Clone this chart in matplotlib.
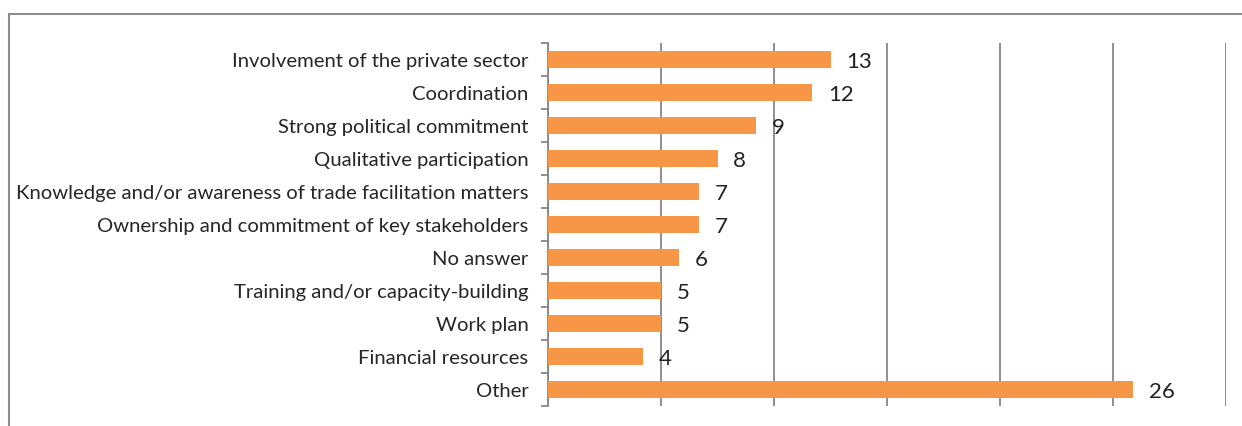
import matplotlib.pyplot as plt
from matplotlib.patches import Rectangle
from matplotlib.ticker import MultipleLocator, FixedLocator

# Factors for success (share of answers, labels rounded)
categories = [
    'Involvement of the private sector',
    'Coordination',
    'Strong political commitment',
    'Qualitative participation',
    'Knowledge and/or awareness of trade facilitation matters',
    'Ownership and commitment of key stakeholders',
    'No answer',
    'Training and/or capacity-building',
    'Work plan',
    'Financial resources',
    'Other',
]
values = [12.5, 11.7, 9.2, 7.5, 6.7, 6.7, 5.8, 5.0, 5.0, 4.2, 25.9]
labels = [13, 12, 9, 8, 7, 7, 6, 5, 5, 4, 26]

plt.rcParams['font.family'] = ['Lato', 'DejaVu Sans']
grey = '#868686'

fig = plt.figure(figsize=(12.42, 4.27), dpi=100)
ax = fig.add_axes([548 / 1242, 20 / 427, (1226 - 548) / 1242, (407 - 44) / 427])

pos = list(range(len(categories)))
ax.barh(pos, values, height=0.5, color='#F79646', zorder=3)
for p, v, lab in zip(pos, values, labels):
    ax.text(v + 0.7, p + 0.05, str(lab), va='center', ha='left', fontsize=16, color='#222222', zorder=4)

ax.set_xlim(0, 30)
ax.set_ylim(len(categories) - 0.5, -0.5)
ax.xaxis.set_major_locator(MultipleLocator(5))
ax.grid(axis='x', color=grey, linewidth=1.3, zorder=0)
ax.tick_params(axis='x', length=0, labelbottom=False)

ax.set_yticks(pos)
ax.set_yticklabels(categories, fontsize=14.6, color='#262626')
ax.tick_params(axis='y', which='major', length=0, pad=14)
ax.yaxis.set_minor_locator(FixedLocator([i - 0.5 for i in range(len(categories) + 1)]))
ax.tick_params(axis='y', which='minor', length=5, width=1.3, color=grey)

for s in ['top', 'right', 'bottom']:
    ax.spines[s].set_visible(False)
ax.spines['left'].set_color(grey)
ax.spines['left'].set_linewidth(1.3)

# outer chart frame
fig.patches.append(Rectangle((9 / 1242, -0.1), 1.2, (427 - 15) / 427 + 0.1,
                             transform=fig.transFigure, fill=False,
                             edgecolor='#8c8c8c', linewidth=1.5))

fig.savefig('out.png', dpi=100)
